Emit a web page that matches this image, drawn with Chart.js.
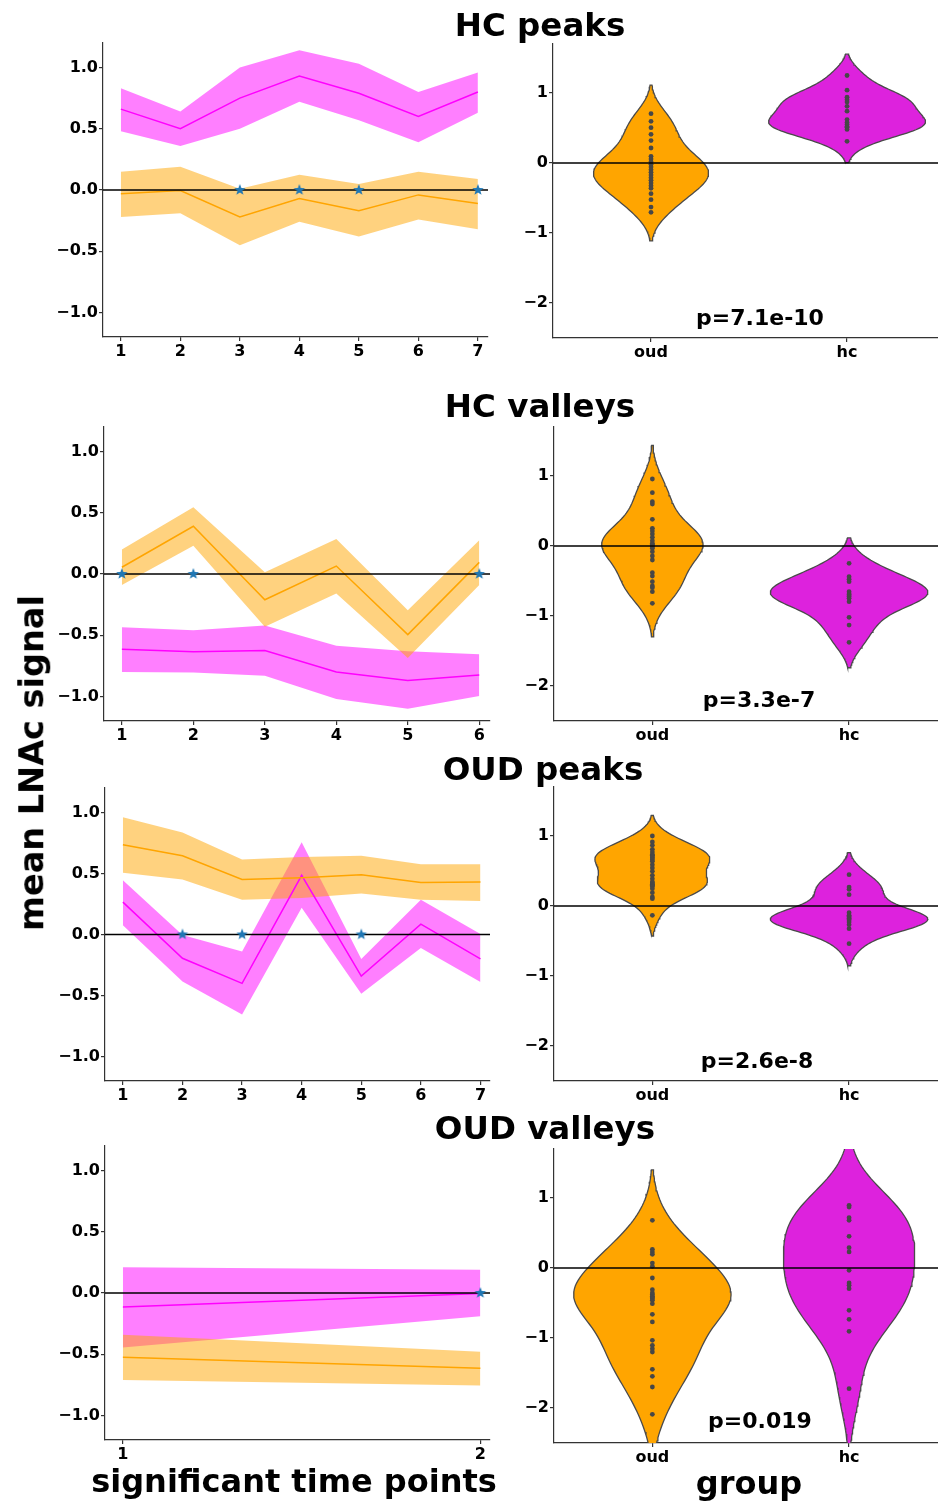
<!DOCTYPE html>
<html>
<head>
<meta charset="utf-8">
<script src="https://cdn.jsdelivr.net/npm/chart.js@4.4.0/dist/chart.umd.min.js"></script>
<style>
  body { margin: 0; background: #fff; width: 938px; height: 1501px; position: relative; overflow: hidden; font-family: 'DejaVu Sans', sans-serif; }
  .box { position: absolute; }
  .lbl { position: absolute; font-weight: bold; white-space: nowrap; transform: translate(-50%, -50%); line-height: 1; color: #000; z-index: 5; }
</style>
</head>
<body>
<div class="lbl" style="left:540px;top:25px;font-size:32.5px">HC peaks</div>
<div class="lbl" style="left:540px;top:406px;font-size:32.5px">HC valleys</div>
<div class="lbl" style="left:543px;top:769px;font-size:32.5px">OUD peaks</div>
<div class="lbl" style="left:545px;top:1128px;font-size:32.5px">OUD valleys</div>
<div class="lbl" style="left:32px;top:763px;font-size:33.5px;transform:translate(-50%,-50%) rotate(-90deg)">mean LNAc signal</div>
<div class="lbl" style="left:294px;top:1481px;font-size:32px">significant time points</div>
<div class="lbl" style="left:749px;top:1483px;font-size:32px">group</div>
<div class="lbl" style="left:760px;top:318px;font-size:22px">p=7.1e-10</div>
<div class="lbl" style="left:759px;top:700px;font-size:22px">p=3.3e-7</div>
<div class="lbl" style="left:757px;top:1061px;font-size:22px">p=2.6e-8</div>
<div class="lbl" style="left:760px;top:1421px;font-size:22px">p=0.019</div>
<script>
// ---- time course panels (mean with band) ----
const hcPeaksX = [1, 2, 3, 4, 5, 6, 7];
const hcPeaksHcMean = [0.66, 0.50, 0.75, 0.93, 0.79, 0.60, 0.80];
const hcPeaksHcUpper = [0.83, 0.64, 1.00, 1.14, 1.03, 0.80, 0.96];
const hcPeaksHcLower = [0.48, 0.36, 0.50, 0.72, 0.57, 0.39, 0.63];
const hcPeaksOudMean = [-0.03, -0.005, -0.22, -0.07, -0.17, -0.04, -0.11];
const hcPeaksOudUpper = [0.15, 0.19, 0.01, 0.125, 0.05, 0.15, 0.09];
const hcPeaksOudLower = [-0.22, -0.19, -0.45, -0.26, -0.38, -0.24, -0.32];
const hcPeaksStars = [3, 4, 5, 7];

const hcValleysX = [1, 2, 3, 4, 5, 6];
const hcValleysHcMean = [-0.615, -0.635, -0.625, -0.80, -0.87, -0.825];
const hcValleysHcUpper = [-0.435, -0.46, -0.42, -0.585, -0.63, -0.655];
const hcValleysHcLower = [-0.80, -0.805, -0.83, -1.02, -1.10, -0.995];
const hcValleysOudMean = [0.055, 0.39, -0.21, 0.065, -0.495, 0.095];
const hcValleysOudUpper = [0.20, 0.545, 0.015, 0.285, -0.295, 0.275];
const hcValleysOudLower = [-0.09, 0.23, -0.43, -0.16, -0.685, -0.09];
const hcValleysStars = [1, 2, 6];

const oudPeaksX = [1, 2, 3, 4, 5, 6, 7];
const oudPeaksHcMean = [0.265, -0.195, -0.40, 0.485, -0.34, 0.085, -0.20];
const oudPeaksHcUpper = [0.445, -0.005, -0.14, 0.755, -0.20, 0.285, 0.005];
const oudPeaksHcLower = [0.075, -0.385, -0.655, 0.22, -0.485, -0.11, -0.39];
const oudPeaksOudMean = [0.735, 0.645, 0.45, 0.465, 0.49, 0.425, 0.43];
const oudPeaksOudUpper = [0.96, 0.835, 0.615, 0.635, 0.645, 0.575, 0.575];
const oudPeaksOudLower = [0.505, 0.45, 0.285, 0.30, 0.335, 0.285, 0.275];
const oudPeaksStars = [2, 3, 5];

const oudValleysX = [1, 2];
const oudValleysHcMean = [-0.115, -0.005];
const oudValleysHcUpper = [0.21, 0.19];
const oudValleysHcLower = [-0.445, -0.19];
const oudValleysOudMean = [-0.525, -0.615];
const oudValleysOudUpper = [-0.34, -0.48];
const oudValleysOudLower = [-0.71, -0.755];
const oudValleysStars = [2];

const lineYTicks = [-1, -0.5, 0, 0.5, 1];

// ---- violin panels (one value per subject) ----
const groups = ['oud', 'hc'];
const violinYTicks = [-2, -1, 0, 1];

const hcPeaksOudVals = [0.705, 0.595, 0.505, 0.41, 0.32, 0.214, 0.095, 0.057, 0.019, -0.019, -0.057,
  -0.095, -0.133, -0.171, -0.21, -0.248, -0.286, -0.324, -0.362, -0.438, -0.524, -0.629, -0.705];
const hcPeaksHcVals = [1.25, 1.04, 0.94, 0.905, 0.87, 0.81, 0.74, 0.62, 0.58, 0.55, 0.52, 0.51, 0.48, 0.31];

const hcValleysOudVals = [0.957, 0.762, 0.633, 0.60, 0.381, 0.252, 0.214, 0.171, 0.124, 0.076, 0.038, 0.02, 0.0,
  -0.01, -0.033, -0.081, -0.143, -0.20, -0.381, -0.429, -0.51, -0.571, -0.595, -0.652, -0.819];
const hcValleysHcVals = [-0.248, -0.438, -0.476, -0.51, -0.652, -0.686, -0.70, -0.72, -0.748, -0.795, -1.019,
  -1.129, -1.376];

const oudPeaksOudVals = [1.0, 0.914, 0.867, 0.81, 0.771, 0.735, 0.724, 0.70, 0.686, 0.66, 0.638, 0.59, 0.543,
  0.495, 0.438, 0.39, 0.343, 0.33, 0.31, 0.295, 0.28, 0.248, 0.19, 0.129, 0.105, -0.133];
const oudPeaksHcVals = [0.448, 0.271, 0.238, 0.162, -0.095, -0.133, -0.15, -0.17, -0.181, -0.20, -0.229,
  -0.267, -0.324, -0.538];

const oudValleysOudVals = [0.681, 0.267, 0.229, 0.195, 0.071, 0.024, -0.143, -0.31, -0.357, -0.38, -0.405,
  -0.42, -0.44, -0.462, -0.51, -0.662, -0.771, -1.033, -1.105, -1.152, -1.2, -1.448, -1.548, -1.70, -2.09];
const oudValleysHcVals = [0.895, 0.871, 0.719, 0.681, 0.452, 0.29, 0.229, -0.033, -0.214, -0.248, -0.295,
  -0.605, -0.733, -0.905, -1.724];

Chart.defaults.font.family = 'DejaVu Sans';
Chart.defaults.font.weight = 'bold';
Chart.defaults.color = '#000';

const HC_LINE = '#ff00ff', OUD_LINE = '#ffa500';
const HC_BAND = 'rgba(255,0,255,0.5)', OUD_BAND = 'rgba(255,165,0,0.5)';
const HC_VIOLIN = '#dd22dd', OUD_VIOLIN = '#ffa500';
const AXIS = '#333';

function minus(s) { return s.replace('-', '\u2212'); }

function makeStar(color, r) {
  const c = document.createElement('canvas');
  const s = Math.ceil(r * 2 + 2);
  c.width = s; c.height = s;
  const g = c.getContext('2d');
  g.fillStyle = color;
  g.beginPath();
  for (let i = 0; i < 10; i++) {
    const rr = i % 2 === 0 ? r : r * 0.42;
    const a = -Math.PI / 2 + i * Math.PI / 5;
    const px = s / 2 + rr * Math.cos(a), py = s / 2 + rr * Math.sin(a);
    if (i === 0) g.moveTo(px, py); else g.lineTo(px, py);
  }
  g.closePath();
  g.fill();
  return c;
}
const starImg = makeStar('#1f77b4', 6);

function axisBase(min, max, ticks, fmt) {
  return {
    type: 'linear', min: min, max: max,
    afterBuildTicks: s => { s.ticks = ticks.map(v => ({ value: v })); },
    grid: { display: true, drawOnChartArea: false, drawTicks: true, tickLength: 4, color: AXIS, lineWidth: 1.2 },
    border: { display: true, color: AXIS, width: 1.2 },
    ticks: { color: '#000', font: { size: 16, weight: 'bold' }, padding: 1, maxRotation: 0, autoSkip: false, callback: fmt }
  };
}

function mount(box, plot, config) {
  const div = document.createElement('div');
  div.className = 'box';
  div.style.left = box.x + 'px'; div.style.top = box.y + 'px';
  div.style.width = box.w + 'px'; div.style.height = box.h + 'px';
  const cv = document.createElement('canvas');
  cv.width = box.w; cv.height = box.h;
  cv.style.width = box.w + 'px'; cv.style.height = box.h + 'px';
  div.appendChild(cv);
  document.body.appendChild(div);
  config.options.layout = { padding: { left: 0, top: plot.T - box.y, right: box.x + box.w - plot.R, bottom: 0 } };
  config.options.scales.x.afterFit = s => { s.height = box.y + box.h - plot.B; };
  config.options.scales.y.afterFit = s => { s.width = plot.L - box.x; };
  new Chart(cv, config);
}

function lineCfg(xs, xr, hcM, hcU, hcL, oudM, oudU, oudL, stars) {
  const pts = a => a.map((v, i) => ({ x: xs[i], y: v }));
  const band = { borderWidth: 0, pointRadius: 0 };
  return {
    type: 'line',
    data: {
      datasets: [
        Object.assign({ data: pts(hcL), fill: false, order: 7 }, band),
        Object.assign({ data: pts(hcU), fill: '-1', backgroundColor: HC_BAND, order: 6 }, band),
        Object.assign({ data: pts(oudL), fill: false, order: 5 }, band),
        Object.assign({ data: pts(oudU), fill: '-1', backgroundColor: OUD_BAND, order: 4 }, band),
        { data: pts(hcM), borderColor: HC_LINE, borderWidth: 1.5, pointRadius: 0, fill: false, order: 3 },
        { data: pts(oudM), borderColor: OUD_LINE, borderWidth: 1.5, pointRadius: 0, fill: false, order: 2 },
        { data: [{ x: xr[0], y: 0 }, { x: xr[1], y: 0 }], borderColor: '#000', borderWidth: 1.5, pointRadius: 0, fill: false, order: 1 },
        { data: stars.map(s => ({ x: s, y: 0 })), showLine: false, pointStyle: starImg, pointRadius: 6, order: 0 }
      ]
    },
    options: {
      responsive: false, animation: false,
      plugins: { legend: { display: false }, tooltip: { enabled: false } },
      elements: { line: { tension: 0 } },
      scales: {
        x: axisBase(xr[0], xr[1], xs, v => String(v)),
        y: axisBase(-1.2, 1.2, lineYTicks, v => minus(v.toFixed(1)))
      }
    }
  };
}

// Gaussian KDE, Scott bandwidth, cut = 2 (as seaborn's violinplot)
function kde(vals) {
  const n = vals.length;
  const mean = vals.reduce((a, b) => a + b, 0) / n;
  const sd = Math.sqrt(vals.reduce((a, b) => a + (b - mean) * (b - mean), 0) / (n - 1));
  const bw = sd * Math.pow(n, -0.2);
  const lo = Math.min(...vals) - 2 * bw, hi = Math.max(...vals) + 2 * bw;
  const ys = [], ds = [];
  for (let i = 0; i < 100; i++) {
    const y = lo + (hi - lo) * i / 99;
    let d = 0;
    for (const v of vals) { const z = (y - v) / bw; d += Math.exp(-0.5 * z * z); }
    ys.push(y); ds.push(d / (n * bw * Math.sqrt(2 * Math.PI)));
  }
  return { ys, ds };
}

function violinCfg(oudVals, hcVals, xr) {
  const dens = [kde(oudVals), kde(hcVals)];
  const maxD = Math.max(...dens.map(k => Math.max(...k.ds)));
  const shape = (k, c) => {
    const right = k.ys.map((y, i) => ({ x: c + k.ds[i] / maxD * 0.4, y: y }));
    const left = k.ys.map((y, i) => ({ x: c - k.ds[i] / maxD * 0.4, y: y })).reverse();
    return right.concat(left, [right[0]]);
  };
  const dots = (vals, c) => vals.map(v => ({ x: c, y: v }));
  const violin = { showLine: true, fill: 'shape', borderColor: '#4a4a4a', borderWidth: 1.3, pointRadius: 0, tension: 0 };
  return {
    type: 'scatter',
    data: {
      datasets: [
        { data: [{ x: xr[0], y: 0 }, { x: xr[1], y: 0 }], showLine: true, borderColor: '#000', borderWidth: 1.5, pointRadius: 0, order: 0 },
        { data: dots(hcVals, 1), pointRadius: 2.4, backgroundColor: '#474747', borderWidth: 0, order: 1 },
        { data: dots(oudVals, 0), pointRadius: 2.4, backgroundColor: '#474747', borderWidth: 0, order: 2 },
        Object.assign({ data: shape(dens[1], 1), backgroundColor: HC_VIOLIN, order: 3 }, violin),
        Object.assign({ data: shape(dens[0], 0), backgroundColor: OUD_VIOLIN, order: 4 }, violin)
      ]
    },
    options: {
      responsive: false, animation: false,
      plugins: { legend: { display: false }, tooltip: { enabled: false } },
      scales: {
        x: axisBase(xr[0], xr[1], [0, 1], v => groups[v]),
        y: axisBase(-2.5, 1.7, violinYTicks, v => minus(String(v)))
      }
    }
  };
}

// row 1: HC peaks
mount({ x: 0, y: 0, w: 500, h: 372 }, { L: 103, T: 43, R: 488, B: 337 },
  lineCfg(hcPeaksX, [0.7, 7.17], hcPeaksHcMean, hcPeaksHcUpper, hcPeaksHcLower,
    hcPeaksOudMean, hcPeaksOudUpper, hcPeaksOudLower, hcPeaksStars));
mount({ x: 500, y: 0, w: 450, h: 372 }, { L: 553, T: 44, R: 938, B: 338 },
  violinCfg(hcPeaksOudVals, hcPeaksHcVals, [-0.5, 1.464]));

// row 2: HC valleys
mount({ x: 0, y: 380, w: 500, h: 372 }, { L: 104, T: 427, R: 490, B: 721 },
  lineCfg(hcValleysX, [0.75, 6.15], hcValleysHcMean, hcValleysHcUpper, hcValleysHcLower,
    hcValleysOudMean, hcValleysOudUpper, hcValleysOudLower, hcValleysStars));
mount({ x: 500, y: 380, w: 450, h: 372 }, { L: 554, T: 427, R: 938, B: 721 },
  violinCfg(hcValleysOudVals, hcValleysHcVals, [-0.5, 1.452]));

// row 3: OUD peaks
mount({ x: 0, y: 760, w: 500, h: 352 }, { L: 105, T: 788, R: 490, B: 1081 },
  lineCfg(oudPeaksX, [0.7, 7.16], oudPeaksHcMean, oudPeaksHcUpper, oudPeaksHcLower,
    oudPeaksOudMean, oudPeaksOudUpper, oudPeaksOudLower, oudPeaksStars));
mount({ x: 500, y: 760, w: 450, h: 352 }, { L: 554, T: 787, R: 938, B: 1081 },
  violinCfg(oudPeaksOudVals, oudPeaksHcVals, [-0.5, 1.452]));

// row 4: OUD valleys
mount({ x: 0, y: 1118, w: 500, h: 357 }, { L: 105, T: 1146, R: 490, B: 1440 },
  lineCfg(oudValleysX, [0.95, 2.027], oudValleysHcMean, oudValleysHcUpper, oudValleysHcLower,
    oudValleysOudMean, oudValleysOudUpper, oudValleysOudLower, oudValleysStars));
mount({ x: 500, y: 1118, w: 450, h: 357 }, { L: 554, T: 1149, R: 938, B: 1443 },
  violinCfg(oudValleysOudVals, oudValleysHcVals, [-0.5, 1.452]));
</script>
</body>
</html>
